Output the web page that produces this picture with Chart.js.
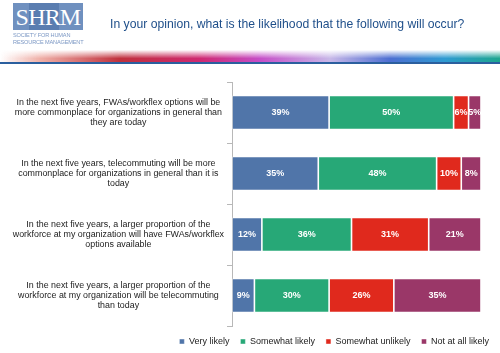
<html>
  <head>
    <script src="https://cdn.jsdelivr.net/npm/chart.js@4.4.1/dist/chart.umd.min.js"></script>
    <style>
      body { margin: 0; background: #fff; font-family: "Liberation Sans", Arial, sans-serif; }
      #wrap { position: relative; width: 500px; height: 353px; overflow: hidden; }
      #chart { position: absolute; left: 0; top: 0; }
      .logo { position: absolute; left: 13px; top: 3px; width: 70px; height: 27px; background: #6f90bf; overflow: hidden; }
      .logo .dark { position: absolute; left: 16px; top: 0; width: 30px; height: 27px; background: #5a7db0; }
      .logo span { position: absolute; left: 0; top: 1px; width: 70px; text-align: center; color: #fff;
        font-family: "Liberation Serif", serif; font-size: 24px; line-height: 26px; letter-spacing: -0.8px; }
      .sub { position: absolute; left: 13px; top: 32px; color: #7c98c4; font-size: 5.6px; line-height: 7px; letter-spacing: -0.15px; }
      .title { position: absolute; left: 110px; top: 17px; color: #1f4f8a; font-size: 12.2px; white-space: nowrap; }
      .stripe { position: absolute; left: 0; top: 50px; width: 500px; height: 12px;
        background: linear-gradient(to bottom, rgba(255,255,255,1) 0%, rgba(255,255,255,0) 70%),
          linear-gradient(to right, rgba(255,255,255,0) 0%, #efb0a8 8%, #c0313d 24%, #cf2a72 40%, #c64fc8 52%, #c8b8e8 66%, #4d6fd2 78%, #2f9bd2 89%, #1ea68e 100%);
        border-bottom: 2px solid #2b5f9e; }
    </style>
  </head>
  <body>
    <div id="wrap">
      <canvas id="chart" width="500" height="353"></canvas>
      <div class="logo"><div class="dark"></div><span>SHRM</span></div>
      <div class="sub">SOCIETY FOR HUMAN<br>RESOURCE MANAGEMENT</div>
      <div class="title">In your opinion, what is the likelihood that the following will occur?</div>
      <div class="stripe"></div>
    </div>
    <script>
      const statements = [
        ["In the next five years, FWAs/workflex options will be", "more commonplace for organizations in general than", "they are today"],
        ["In the next five years, telecommuting will be more", "commonplace for organizations in general than it is", "today"],
        ["In the next five years, a larger proportion of the", "workforce at my organization will have FWAs/workflex", "options available"],
        ["In the next five years, a larger proportion of the", "workforce at my organization will be telecommuting", "than today"]
      ];
      const answers = ["Very likely", "Somewhat likely", "Somewhat unlikely", "Not at all likely"];
      const veryLikely = [39, 35, 12, 9];
      const somewhatLikely = [50, 48, 36, 30];
      const somewhatUnlikely = [6, 10, 31, 26];
      const notAtAll = [5, 8, 21, 35];
      const answerColors = ['#5075a9', '#27a877', '#e0291d', '#9a3768'];

      const series = [veryLikely, somewhatLikely, somewhatUnlikely, notAtAll];
      // 100% stacked: each row scaled to its own total
      const rowTotals = statements.map((s, i) => series.reduce((t, arr) => t + arr[i], 0));

      const datasets = series.map((arr, k) => ({
        label: answers[k],
        raw: arr,
        data: arr.map((v, i) => v / rowTotals[i] * 100),
        backgroundColor: answerColors[k],
        borderColor: 'rgba(255,255,255,0.55)',
        borderWidth: 0.8,
        borderSkipped: false,
        barPercentage: 0.56,
        categoryPercentage: 1
      }));

      const pctLabels = {
        id: 'pctLabels',
        afterDatasetsDraw(chart) {
          const ctx = chart.ctx;
          ctx.save();
          ctx.font = 'bold 9px "Liberation Sans", Arial, sans-serif';
          ctx.fillStyle = '#fff';
          ctx.textAlign = 'center';
          ctx.textBaseline = 'middle';
          chart.data.datasets.forEach((ds, k) => {
            chart.getDatasetMeta(k).data.forEach((bar, i) => {
              const p = bar.getCenterPoint();
              ctx.fillText(ds.raw[i] + '%', p.x, p.y + 0.5);
            });
          });
          ctx.restore();
        }
      };

      new Chart(document.getElementById('chart'), {
        type: 'bar',
        data: { labels: statements, datasets: datasets },
        plugins: [pctLabels],
        options: {
          indexAxis: 'y',
          responsive: false,
          animation: false,
          layout: { padding: { top: 82, right: 0, bottom: 0, left: 0 } },
          scales: {
            x: { stacked: true, min: 0, max: 100, display: false },
            y: {
              stacked: true,
              grid: { drawOnChartArea: false, tickLength: 5, color: '#b8b8b8' },
              border: { display: true, color: '#b8b8b8' },
              ticks: {
                crossAlign: 'center',
                padding: 3,
                color: '#222',
                font: { family: '"Liberation Sans", Arial, sans-serif', size: 8.9, lineHeight: 1.1 }
              },
              afterFit(s) { s.width = 232; }
            },
            yRight: {
              type: 'category',
              position: 'right',
              grid: { display: false },
              border: { display: false },
              ticks: { display: false },
              afterFit(s) { s.width = 19; }
            }
          },
          plugins: {
            tooltip: { enabled: false },
            legend: {
              position: 'bottom',
              align: 'end',
              maxHeight: 27,
              labels: {
                boxWidth: 5,
                boxHeight: 5,
                padding: 11,
                color: '#222',
                font: { family: '"Liberation Sans", Arial, sans-serif', size: 9 }
              }
            }
          }
        }
      });
    </script>
  </body>
</html>
